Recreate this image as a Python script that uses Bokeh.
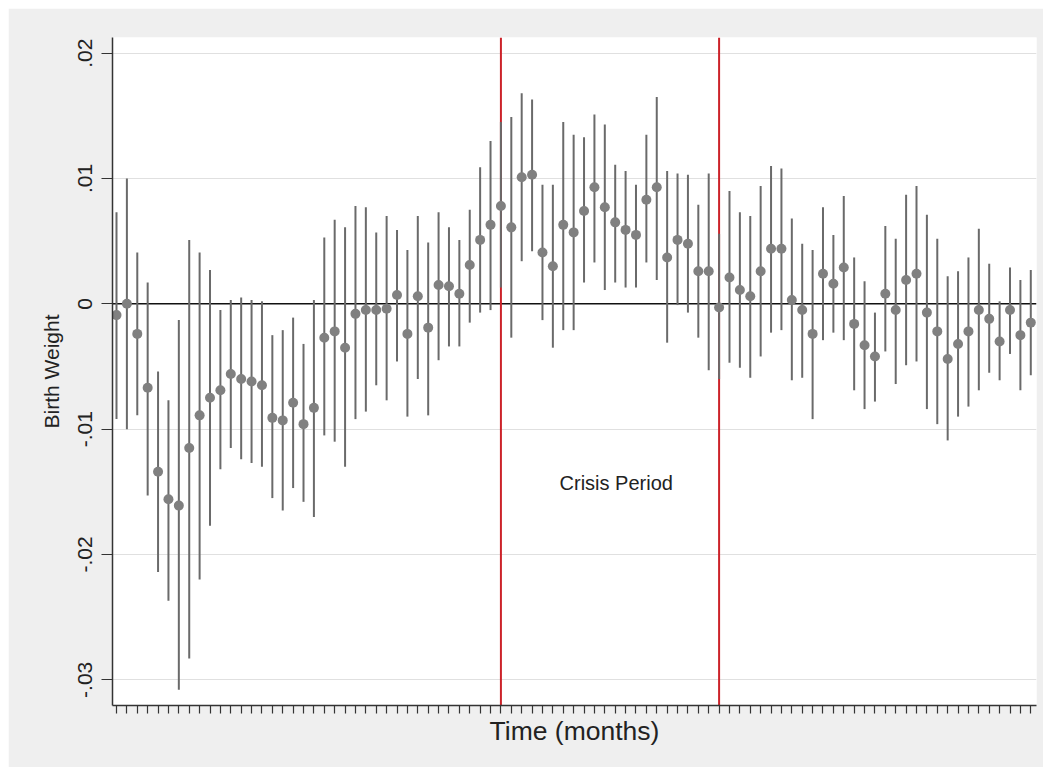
from bokeh.plotting import figure
from bokeh.models import Range1d, FixedTicker, Span, Label, Spacer
from bokeh.layouts import row, column
from bokeh.embed import file_html
from bokeh.resources import INLINE

# ---- data ----
months = list(range(1, 90))
estimate = [
    -0.0009, 0.0000, -0.0024, -0.0067, -0.0134, -0.0156, -0.0161, -0.0115, -0.0089, -0.0075,
    -0.0069, -0.0056, -0.0060, -0.0062, -0.0065, -0.0091, -0.0093, -0.0079, -0.0096, -0.0083,
    -0.0027, -0.0022, -0.0035, -0.0008, -0.0005, -0.0005, -0.0004, 0.0007, -0.0024, 0.0006,
    -0.0019, 0.0015, 0.0014, 0.0008, 0.0031, 0.0051, 0.0063, 0.0078, 0.0061, 0.0101,
    0.0103, 0.0041, 0.0030, 0.0063, 0.0057, 0.0074, 0.0093, 0.0077, 0.0065, 0.0059,
    0.0055, 0.0083, 0.0093, 0.0037, 0.0051, 0.0048, 0.0026, 0.0026, -0.0003, 0.0021,
    0.0011, 0.0006, 0.0026, 0.0044, 0.0044, 0.0003, -0.0005, -0.0024, 0.0024, 0.0016,
    0.0029, -0.0016, -0.0033, -0.0042, 0.0008, -0.0005, 0.0019, 0.0024, -0.0007, -0.0022,
    -0.0044, -0.0032, -0.0022, -0.0005, -0.0012, -0.0030, -0.0005, -0.0025, -0.0015,
]
ci_upper = [
    0.0073, 0.0100, 0.0041, 0.0017, -0.0054, -0.0077, -0.0013, 0.0051, 0.0041, 0.0027,
    -0.0005, 0.0003, 0.0005, 0.0003, 0.0002, -0.0025, -0.0021, -0.0011, -0.0032, 0.0003,
    0.0053, 0.0067, 0.0061, 0.0078, 0.0077, 0.0057, 0.0070, 0.0059, 0.0043, 0.0070,
    0.0049, 0.0073, 0.0061, 0.0051, 0.0075, 0.0109, 0.0130, 0.0145, 0.0149, 0.0168,
    0.0163, 0.0095, 0.0095, 0.0145, 0.0135, 0.0133, 0.0151, 0.0143, 0.0111, 0.0106,
    0.0095, 0.0135, 0.0165, 0.0106, 0.0104, 0.0103, 0.0079, 0.0104, 0.0056, 0.0090,
    0.0073, 0.0070, 0.0094, 0.0110, 0.0108, 0.0068, 0.0048, 0.0043, 0.0077, 0.0055,
    0.0086, 0.0037, 0.0018, -0.0007, 0.0062, 0.0052, 0.0087, 0.0094, 0.0071, 0.0052,
    0.0022, 0.0026, 0.0037, 0.0060, 0.0032, 0.0002, 0.0029, 0.0019, 0.0027,
]
ci_lower = [
    -0.0092, -0.0100, -0.0089, -0.0153, -0.0214, -0.0237, -0.0308, -0.0283, -0.0220, -0.0177,
    -0.0132, -0.0115, -0.0124, -0.0127, -0.0130, -0.0155, -0.0165, -0.0147, -0.0158, -0.0170,
    -0.0105, -0.0110, -0.0130, -0.0092, -0.0086, -0.0065, -0.0077, -0.0046, -0.0090, -0.0060,
    -0.0089, -0.0045, -0.0034, -0.0034, -0.0015, -0.0007, -0.0005, 0.0013, -0.0027, 0.0034,
    0.0042, -0.0013, -0.0035, -0.0021, -0.0021, 0.0017, 0.0033, 0.0011, 0.0017, 0.0013,
    0.0013, 0.0033, 0.0019, -0.0031, -0.0001, -0.0007, -0.0027, -0.0053, -0.0060, -0.0047,
    -0.0051, -0.0059, -0.0042, -0.0023, -0.0021, -0.0061, -0.0059, -0.0092, -0.0029, -0.0023,
    -0.0029, -0.0069, -0.0084, -0.0078, -0.0038, -0.0064, -0.0049, -0.0046, -0.0084, -0.0096,
    -0.0109, -0.0090, -0.0082, -0.0069, -0.0055, -0.0061, -0.0040, -0.0069, -0.0057,
]
y_ticks = [-0.03, -0.02, -0.01, 0.0, 0.01, 0.02]
y_tick_labels = ["-.03", "-.02", "-.01", "0", ".01", ".02"]
crisis_months = [38, 59]
crisis_label = "Crisis Period"
crisis_label_pos = (49.1, -0.0143)

FONT = "Liberation Sans"

p = figure(width=1035, height=759, output_backend="svg", toolbar_location=None,
           x_range=Range1d(0.615, 89.55), y_range=Range1d(-0.03205, 0.02125),
           min_border_left=104, min_border_right=7, min_border_top=29, min_border_bottom=62)
p.background_fill_color = "white"
p.border_fill_color = "#efefef"
p.outline_line_color = None

# grid
p.xgrid.grid_line_color = None
p.ygrid.ticker = FixedTicker(ticks=y_ticks)
p.ygrid.grid_line_color = "#e0e0e0"
p.ygrid.grid_line_width = 1

# zero line
p.add_layout(Span(location=0, dimension="width", line_color="#111111", line_width=1.5, level="underlay"))
# crisis lines
for m in crisis_months:
    p.add_layout(Span(location=m, dimension="height", line_color="#cc2229", line_width=2, level="underlay"))

# confidence intervals and point estimates
p.segment(x0=months, y0=ci_lower, x1=months, y1=ci_upper, line_color="#6a6a6a", line_width=2)
p.scatter(months, estimate, size=10, fill_color="#808080", line_color=None)

p.add_layout(Label(x=crisis_label_pos[0], y=crisis_label_pos[1], text=crisis_label,
                   text_align="center", text_baseline="middle", text_font=FONT,
                   text_font_size="20px", text_color="#222222"))

# y axis
ya = p.yaxis[0]
ya.ticker = FixedTicker(ticks=y_ticks)
ya.major_label_overrides = {t: s for t, s in zip(y_ticks, y_tick_labels)}
ya.major_label_orientation = "vertical"
ya.major_label_text_font = FONT
ya.major_label_text_font_size = "21px"
ya.major_label_text_color = "#222222"
ya.major_label_standoff = 9
ya.major_tick_out = 11
ya.major_tick_in = 0
ya.minor_tick_out = 0
ya.minor_tick_in = 0
ya.major_tick_line_color = "#333333"
ya.axis_line_color = "#333333"
ya.axis_line_width = 1.5
ya.major_tick_line_width = 1.2
ya.axis_label = "Birth Weight"
ya.axis_label_text_font = FONT
ya.axis_label_text_font_size = "21px"
ya.axis_label_text_font_style = "normal"
ya.axis_label_text_color = "#222222"
ya.axis_label_standoff = 13

# x axis
xa = p.xaxis[0]
xa.ticker = FixedTicker(ticks=months)
xa.major_label_overrides = {m: "" for m in months}
xa.major_tick_out = 8
xa.major_tick_in = 0
xa.minor_tick_out = 0
xa.minor_tick_in = 0
xa.major_tick_line_color = "#333333"
xa.major_tick_line_width = 1.2
xa.axis_line_color = "#333333"
xa.axis_line_width = 1.5
xa.axis_label = "Time (months)"
xa.axis_label_text_font = FONT
xa.axis_label_text_font_size = "26.5px"
xa.axis_label_text_font_style = "normal"
xa.axis_label_text_color = "#222222"
xa.axis_label_standoff = 2

page = row(Spacer(width=8), column(Spacer(height=8), p))
open("out.html", "w").write(file_html(page, INLINE))
